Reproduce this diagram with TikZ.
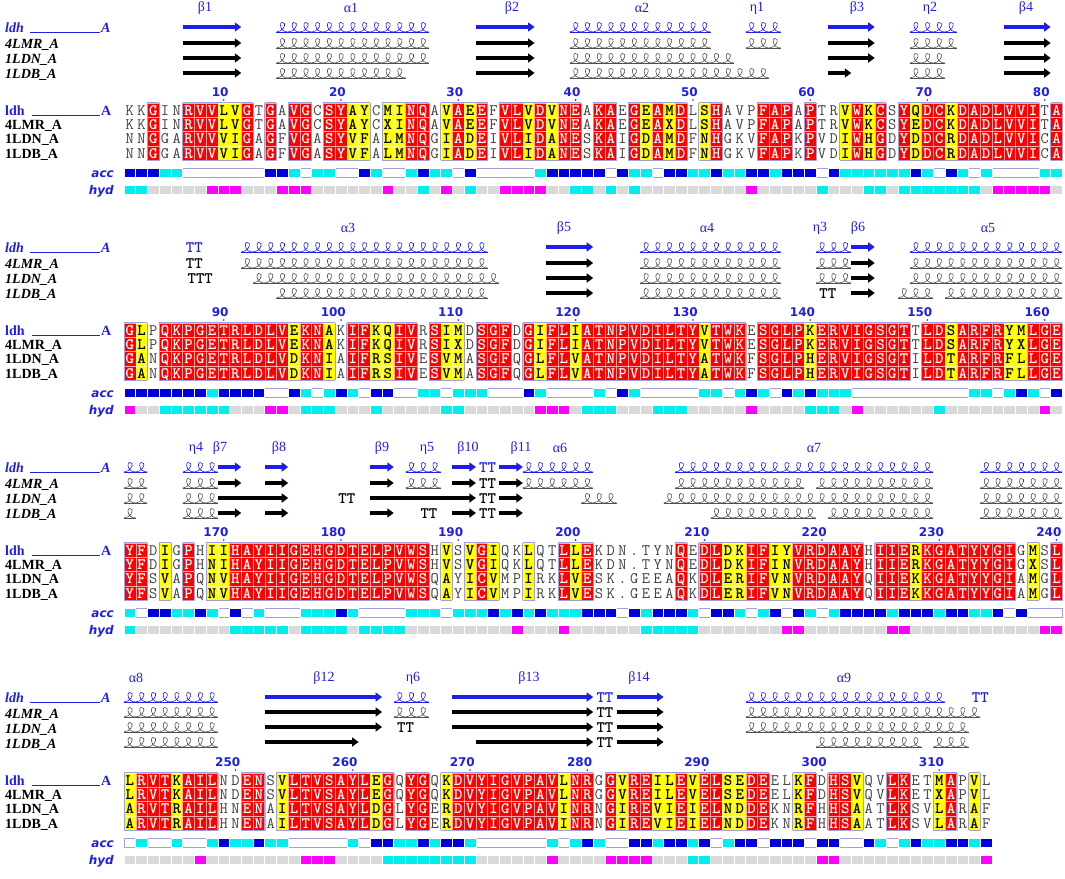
\documentclass[tikz,border=0pt]{standalone}
\usepackage{fontspec}
\setmainfont{Liberation Serif}
\newfontfamily\numfont{DejaVu Sans}
\usepackage{xstring}
\usetikzlibrary{arrows.meta}

\definecolor{espred}{HTML}{FF0000}
\definecolor{espyellow}{HTML}{FFFF00}
\definecolor{espblue}{HTML}{1E1EE6}
\definecolor{espframe}{HTML}{A0A0DC}
\definecolor{accblue}{HTML}{0000DC}
\definecolor{acccyan}{HTML}{00EEEE}
\definecolor{hydmag}{HTML}{FF00FF}
\definecolor{hydgray}{HTML}{D9D9D9}
\definecolor{helixgray}{HTML}{505050}

\newcommand\cw{11.73}
\newcommand\xo{124}
\newcommand\resfont{\fontsize{16}{16}\selectfont\ttfamily}

\tikzset{
  res/.style={anchor=base, inner sep=0pt, font=\resfont\bfseries},
  plainres/.style={font=\resfont, text=black!75},
  redcell/.style={fill=espred, draw=white!65!espred, line width=0.4pt},
  yelcell/.style={fill=espyellow, draw=white!50!espyellow, line width=0.4pt},
  framebox/.style={draw=espframe, line width=0.8pt},
  strand/.style={line width=3.6pt, -{Triangle[width=9pt,length=6.5pt]}},
  helixloop/.style={line width=0.6pt},
  turn/.style={anchor=base, inner sep=0pt, font=\resfont\bfseries},
  sslab/.style={inner sep=0pt, font=\fontsize{14}{14}\selectfont, text=espblue},
  numlab/.style={anchor=base east, inner sep=0pt, font=\numfont\fontsize{12}{12}\selectfont\bfseries, text=espblue},
  seqname/.style={anchor=base west, inner sep=0pt, font=\fontsize{14}{14}\selectfont\bfseries},
  ssname/.style={anchor=base west, inner sep=0pt, font=\fontsize{14}{14}\selectfont\bfseries\itshape},
  proflab/.style={anchor=base east, inner sep=0pt, font=\numfont\fontsize{12}{12}\selectfont\bfseries\itshape, text=espblue},
  profcell/.style={draw=white, line width=0.6pt}
}

% y offset, columns, classes, four sequences
\newcommand\seqblock[7]{%
  \StrDel{#3}{|}[\cls]%
  \foreach \s [count=\rw from 0] in {#4,#5,#6,#7}{%
    \StrDel{\s}{|}[\sq]%
    \pgfmathsetmacro\yc{#1+110+\rw*14.4}%
    \foreach \i in {1,...,#2}{%
      \StrChar{\cls}{\i}[\cl]\StrChar{\sq}{\i}[\ch]%
      \pgfmathsetmacro\xl{\xo+(\i-1)*\cw}%
      \IfStrEq{\cl}{r}{%
        \filldraw[redcell] (\xl,\yc-7.2) rectangle ++(\cw,14.4);
        \node[res, text=white] (res-#1-\rw-\i) at (\xl+\cw/2,\yc+5) {\ch};}{%
      \IfStrEq{\cl}{y}{%
        \filldraw[yelcell] (\xl,\yc-7.2) rectangle ++(\cw,14.4);
        \node[res] (res-#1-\rw-\i) at (\xl+\cw/2,\yc+5) {\ch};}{%
        \node[res, plainres] (res-#1-\rw-\i) at (\xl+\cw/2,\yc+5) {\ch};}}%
    }%
  }%
  \foreach \i in {1,...,#2}{%
    \StrChar{\cls}{\i}[\cl]%
    \IfStrEq{\cl}{.}{}{%
      \pgfmathsetmacro\xl{\xo+(\i-1)*\cw}%
      \pgfmathtruncatemacro\ipr{\i-1}\pgfmathtruncatemacro\inx{\i+1}%
      \StrChar{\cls}{\ipr}[\pv]\StrChar{\cls}{\inx}[\nv]%
      \draw[framebox] (\xl,#1+102.8) -- ++(\cw,0) (\xl,#1+160.4) -- ++(\cw,0);
      \IfStrEq{\pv}{.}{\draw[framebox] (\xl,#1+102.8) -- ++(0,57.6);}{}%
      \IfStrEq{\pv}{}{\draw[framebox] (\xl,#1+102.8) -- ++(0,57.6);}{}%
      \IfStrEq{\nv}{.}{\draw[framebox] (\xl+\cw,#1+102.8) -- ++(0,57.6);}{}%
      \IfStrEq{\nv}{}{\draw[framebox] (\xl+\cw,#1+102.8) -- ++(0,57.6);}{}%
    }%
  }%
}

% y offset, columns, accessibility, hydropathy
\newcommand\profile[4]{%
  \StrDel{#3}{|}[\acs]\StrDel{#4}{|}[\hys]%
  \pgfmathsetmacro\xr{\xo+#2*\cw}%
  \draw[framebox, line width=0.5pt] (\xo,#1+168) rectangle (\xr,#1+177);
  \foreach \i in {1,...,#2}{%
    \StrChar{\acs}{\i}[\ca]\StrChar{\hys}{\i}[\hy]%
    \pgfmathsetmacro\xl{\xo+(\i-1)*\cw}%
    \IfStrEq{\ca}{b}{\filldraw[profcell, fill=accblue] (\xl,#1+168) rectangle ++(\cw,9);}{}%
    \IfStrEq{\ca}{c}{\filldraw[profcell, fill=acccyan] (\xl,#1+168) rectangle ++(\cw,9);}{}%
    \IfStrEq{\hy}{m}{\def\hc{hydmag}}{\IfStrEq{\hy}{c}{\def\hc{acccyan}}{\def\hc{hydgray}}}%
    \filldraw[profcell, fill=\hc] (\xl,#1+185) rectangle ++(\cw,9);
  }%
  \node[proflab] (acc-#1) at (114,#1+177) {acc};
  \node[proflab] (hyd-#1) at (114,#1+194) {hyd};
}

\newcommand\names[1]{%
  \node[ssname, text=espblue] (ssldh-#1) at (5,#1+32) {ldh};
  \draw[espblue, line width=0.5pt] (30,#1+32) -- (100,#1+32);
  \node[ssname, text=espblue] (ssldhA-#1) at (101,#1+32) {A};
  \node[ssname] (sslmr-#1) at (5,#1+48) {4LMR\_A};
  \node[ssname] (ssldn-#1) at (5,#1+63) {1LDN\_A};
  \node[ssname] (ssldb-#1) at (5,#1+78) {1LDB\_A};
  \node[seqname, text=espblue] (sqldh-#1) at (5,#1+115) {ldh};
  \draw[espblue, line width=0.6pt] (32,#1+115) -- (100,#1+115);
  \node[seqname, text=espblue] (sqldhA-#1) at (101,#1+115) {A};
  \node[seqname] (sqlmr-#1) at (5,#1+129.4) {4LMR\_A};
  \node[seqname] (sqldn-#1) at (5,#1+143.8) {1LDN\_A};
  \node[seqname] (sqldb-#1) at (5,#1+158.2) {1LDB\_A};
}

% y, strand colour, helix colour, strands, helices, turns
\newcommand\ssrow[6]{%
  \foreach \a/\b in {#4}{\draw[strand, #2] ({\xo+(\a-1)*\cw},#1) -- ({\xo+\b*\cw},#1);}
  \foreach \a/\b in {#5}{%
    \draw[helixloop, #3] ({\xo+(\a-1)*\cw},#1+5) -- ({\xo+\b*\cw},#1+5);
    \foreach \k in {\a,...,\b}{%
      \pgfmathsetmacro\lx{\xo+(\k-1)*\cw}%
      \draw[helixloop, #3] (\lx,#1+5) .. controls (\lx+6,#1+4.5) and (\lx+9,#1-1) .. (\lx+8,#1-3.5)
        .. controls (\lx+7,#1-5.5) and (\lx+3.5,#1-5) .. (\lx+4,#1-1.5)
        .. controls (\lx+4.5,#1+2.5) and (\lx+7,#1+5) .. (\lx+\cw,#1+5);
    }}
  \IfStrEq{#6}{}{}{\foreach \a/\b in {#6}{%
    \StrLen{\b}[\nl]%
    \node[turn, text=#2] (tt-#1-\a) at ({\xo+(\a-1+\nl/2)*\cw},#1+5) {\b};}}%
}

\newcommand\numrow[2]{%
  \foreach \nc/\t in {#2}{%
    \node[numlab] (num-\t) at ({\xo+(\nc-0.5)*\cw+5},#1+96) {\t};
    \fill[espblue] ({\xo+(\nc-0.5)*\cw},#1+100) circle (0.9pt);
  }}

\newcommand\sslabels[2]{\foreach \x/\t in {#2}{\node[sslab] (lab-#1-\x) at (\x,#1+8) {\t};}}

\begin{document}
\begin{tikzpicture}[x=1pt, y=-1pt]
  \fill[white] (0,0) rectangle (1065,878);
  \useasboundingbox (0,0) rectangle (1065,878);

  % block 1
  \sslabels{0}{205/β1,351/α1,512/β2,642/α2,757/η1,857/β3,930/η2,1026/β4}
  \ssrow{27}{espblue}{espblue}{6/10,31/35,61/64,76/79}{14/26,39/50,54/56,68/71}{}
  \ssrow{43}{black}{helixgray}{6/10,31/35,61/64,76/79}{14/26,39/50,54/56,68/71}{}
  \ssrow{58}{black}{helixgray}{6/10,31/35,61/64,76/79}{14/26,39/52,68/70}{}
  \ssrow{73}{black}{helixgray}{6/10,31/35,61/62,76/79}{14/24,39/55,68/70}{}
  \numrow{0}{9/10,19/20,29/30,39/40,49/50,59/60,69/70,79/80}
  \names{0}
  \seqblock{0}{80}{..r..rrryy|r.r.rr.rry|y.yyrr.yry|r.rryryrr.|rr.ryryr.y|r...rrr.r.|.yryr.ryrr|yrrrrrrr.r}
    {KKGINRVVLV|GTGAVGCSYA|YCMINQAVAE|EFVLVDVNEA|KAEGEAMDLS|HAVPFAPAPT|RVWKCSYQDC|KDADLVVITA}
    {KKGINRVVLV|GTGAVGCSYA|YCXINQAVAE|EFVLVDVNEA|KAEGEAXDLS|HAVPFAPAPT|RVWKCSYEDC|KDADLVVITA}
    {NNGGARVVVI|GAGFVGASYV|FALMNQGIAD|EIVLIDANES|KAIGDAMDFN|HGKVFAPKPV|DIWHGDYDDC|RDADLVVICA}
    {NNGGARVVVI|GAGFVGASYV|FALMNQGIAD|EIVLIDANES|KAIGDAMDFN|HGKVFAPKPV|DIWHGDYDDC|RDADLVVICA}
  \profile{0}{80}{bbbccwwwww|wwbbcwccww|bcwwcbccwb|wwwwwcbbbb|bwbccwbbcc|bccbbcbbbw|bccccccbcw|bcwcwwwwcc}
    {ccgggggmmm|gggmmmgggg|ggmggcgmgc|ggmmmmggcc|gcgcgggggg|gggmgggggc|gggccgcccc|cccgmmmmmg}

  % block 2
  \sslabels{220}{348/α3,564/β5,707/α4,820/η3,858/β6,988/α5}
  \ssrow{247}{espblue}{espblue}{37/40,63/64}{11/31,45/56,60/62,68/80}{6/TT}
  \ssrow{263}{black}{helixgray}{37/40,63/64}{11/31,45/56,60/62,68/80}{6/TT}
  \ssrow{278}{black}{helixgray}{37/40,63/64}{12/32,45/56,60/62,68/80}{6/TTT}
  \ssrow{293}{black}{helixgray}{37/40,63/64}{14/31,45/56,67/69,71/80}{60/TT}
  \numrow{220}{9/90,19/100,29/110,39/120,49/130,59/140,69/150,79/160}
  \names{220}
  \seqblock{220}{80}{ry.rrrrrrr|rrrryrry.r|ryyrr.ryy.|rrr.ryrryr|rrrrrrrrry|rrr.rrrryr|rrrrrrr.rr|yrrrryyrrr}
    {GLPQKPGETR|LDLVEKNAKI|FKQIVRSIMD|SGFDGIFLIA|TNPVDILTYV|TWKESGLPKE|RVIGSGTTLD|SARFRYMLGE}
    {GLPQKPGETR|LDLVEKNAKI|FKQIVRSIXD|SGFDGIFLIA|TNPVDILTYV|TWKESGLPKE|RVIGSGTTLD|SARFRYXLGE}
    {GANQKPGETR|LDLVDKNIAI|FRSIVESVMA|SGFQGLFLVA|TNPVDILTYA|TWKFSGLPHE|RVIGSGTILD|TARFRFLLGE}
    {GANQKPGETR|LDLVDKNIAI|FRSIVESVMA|SGFQGLFLVA|TNPVDILTYA|TWKFSGLPHE|RVIGSGTILD|TARFRFLLGE}
  \profile{220}{80}{bbbbbbbcbb|bbwwbcwcbc|wbbwwccwcc|cwwwbcwwww|cwbcwwwwwc|cwcbcwbcbc|ccwwwwwwww|wwccwcbcwb}
    {mggccccccg|ggmmgcccgg|gcgggggccg|gggggmmmgc|ccgggcccgg|gggmggggcc|cgmggggggc|ggggggggmg}

  % block 3
  \sslabels{440}{196/η4,220/β7,279/β8,382/β9,427/η5,468/β10,521/β11,560/α6,814/α7}
  \ssrow{467}{espblue}{espblue}{9/10,13/14,22/23,29/30,33/34}{1/2,6/8,25/27,35/40,48/69,74/80}{31/TT}
  \ssrow{483}{black}{helixgray}{9/10,13/14,22/23,29/30,33/34}{1/2,6/8,25/27,35/40,48/58,60/69,74/80}{31/TT}
  \ssrow{498}{black}{helixgray}{9/14,22/30,33/34}{1/2,6/8,40/42,47/69,74/80}{19/TT,31/TT}
  \ssrow{513}{black}{helixgray}{9/10,13/14,22/23,29/30,33/34}{1/1,6/8,51/59,61/69,74/80}{26/TT,31/TT}
  \numrow{440}{9/170,19/180,29/190,39/200,50/210,60/220,70/230,80/240}
  \names{440}
  \seqblock{440}{80}{rr.y.r.yyr|rrrrrrrrrr|rrrrrr.y.y|ry..y..ryr|.......r.r|ryyrryyrrr|rrr.rrryrr|rrrrrr.y.r}
    {YFDIGPHIIH|AYIIGEHGDT|ELPVWSHVSV|GIQKLQTLLE|KDN.TYNQED|LDKIFIYVRD|AAYHIIERKG|ATYYGIGMSL}
    {YFDIGPHNIH|AYIIGEHGDT|ELPVWSHVSV|GIQKLQTLLE|KDN.TYNQED|LDKIFINVRD|AAYHIIERKG|ATYYGIGXSL}
    {YFSVAPQNVH|AYIIGEHGDT|ELPVWSQAYI|CVMPIRKLVE|SK.GEEAQKD|LERIFVNVRD|AAYQIIEKKG|ATYYGIAMGL}
    {YFSVAPQNVH|AYIIGEHGDT|ELPVWSQAYI|CVMPIRKLVE|SK.GEEAQKD|LERIFVNVRD|AAYQIIEKKG|ATYYGIAMGL}
  \profile{440}{80}{cwbbccbcwb|wcwwwcccbc|wwwwcccwcc|cbcbcbcccb|bbwbcbbbcw|bbcwcbwbcw|cbbbbcbbbc|bbccbwbwww}
    {cggggggggc|ccccgccccg|ccccgggggg|gggmgggmgg|ggggcccccg|ggggggmmgg|gggggmmggg|ggggggggmm}

  % block 4
  \sslabels{670}{136/α8,324/β12,413/η6,529/β13,639/β14,844/α9}
  \ssrow{697}{espblue}{espblue}{13/22,29/40,43/46}{1/8,24/26,54/70}{41/TT,73/TT}
  \ssrow{712}{black}{helixgray}{13/22,29/40,43/46}{1/8,24/26,54/73}{41/TT}
  \ssrow{727}{black}{helixgray}{13/22,29/40,43/46}{1/8,54/72}{24/TT,41/TT}
  \ssrow{742}{black}{helixgray}{13/20,31/40,43/46}{1/8,60/68,70/72}{41/TT}
  \numrow{670}{10/250,20/260,30/270,40/280,50/290,60/300,70/310}
  \names{670}
  \seqblock{670}{74}{yrrryrrr..|rr.yrrrrrr|ryr.rr.yrr|rrrrrrryrr|.ryrryyryr|ryyrr..yr.|rry..rr..y|r.y.}
    {LRVTKAILND|ENSVLTVSAY|LEGQYGQKDV|YIGVPAVLNR|GGVREILEVE|LSEDEELKFD|HSVQVLKETM|APVL}
    {LRVTKAILND|ENSVLTVSAY|LEGQYGQKDV|YIGVPAVLNR|GGVREILEVE|LSEDEELKFD|HSVQVLKETX|APVL}
    {ARVTRAILHN|ENAILTVSAY|LDGLYGERDV|YIGVPAVINR|NGIREVIEIE|LNDDEKNRFH|HSAATLKSVL|ARAF}
    {ARVTRAILHN|ENAILTVSAY|LDGLYGERDV|YIGVPAVINR|NGIREVIEIE|LNDDEKNRFH|HSAATLKSVL|ARAF}
  \profile{670}{74}{wcwwcwwcbc|cbccwwwwwc|wbbccbcbbc|wwwwwwcwcb|cwwbbcbbcb|wcbbwbbbwb|bwwbcwcbcc|bbcb}
    {ggggggmggg|gggggmmmgg|ggcccccccc|ggggggmggg|gmmmmgggcc|gggggggggm|mggggggggg|gggm}
\end{tikzpicture}
\end{document}
